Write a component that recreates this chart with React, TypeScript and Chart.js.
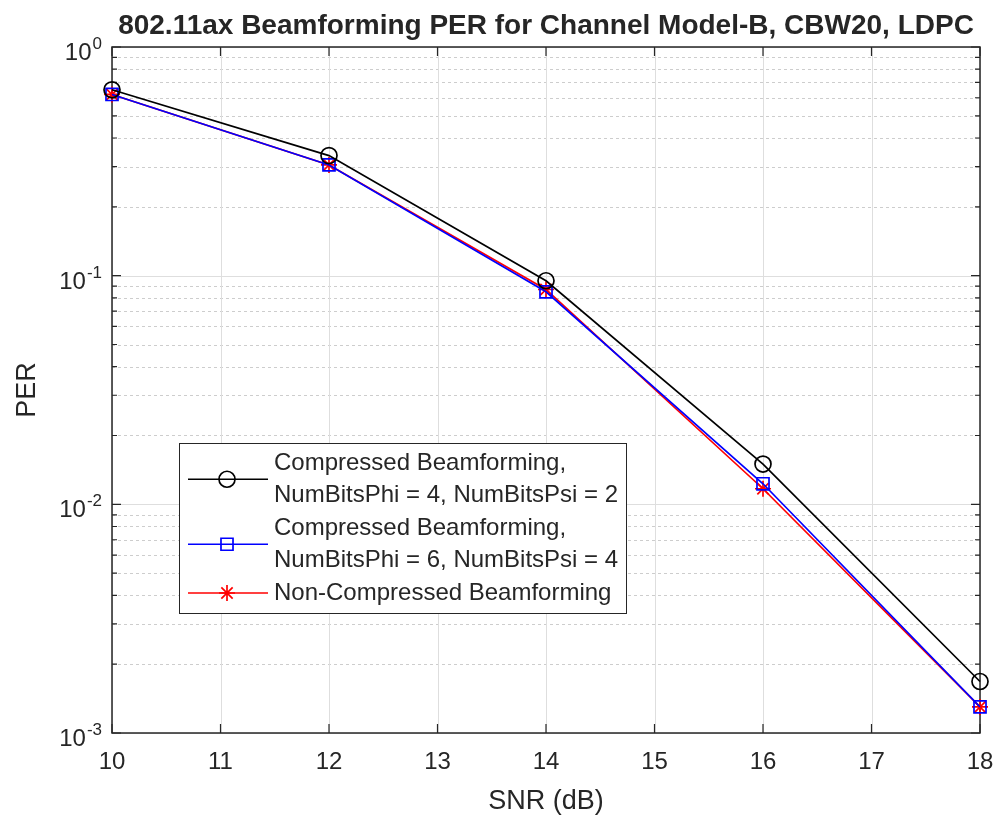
import React, { useEffect, useRef } from 'react';
import { Chart, registerables } from 'chart.js';

Chart.register(...registerables);

// ---- data ----
const snrDb = [10, 12, 14, 16, 18];
const perCompressedPhi4Psi2 = [0.65, 0.335, 0.095, 0.015, 0.00168];
const perCompressedPhi6Psi4 = [0.62, 0.305, 0.085, 0.0123, 0.0013];
const perNonCompressed = [0.62, 0.305, 0.087, 0.0117, 0.0013];

const xTickValues = [10, 11, 12, 13, 14, 15, 16, 17, 18];
const yDecades = [1, 0.1, 0.01, 0.001];
const yDecadeExponents = ['0', '-1', '-2', '-3'];
const minorMultipliers = [2, 3, 4, 5, 6, 7, 8, 9];

const titleText = '802.11ax Beamforming PER for Channel Model-B, CBW20, LDPC';
const xLabel = 'SNR (dB)';
const yLabel = 'PER';
const legendLines = [
  ['Compressed Beamforming,', 'NumBitsPhi = 4, NumBitsPsi = 2'],
  ['Compressed Beamforming,', 'NumBitsPhi = 6, NumBitsPsi = 4'],
  ['Non-Compressed Beamforming'],
];

const TEXT = '#262626';
const FONT = '"Liberation Sans", Arial, Helvetica, sans-serif';
const COLORS = ['#000000', '#0000ff', '#ff0000'];
const MARKERS = ['circle', 'rect', 'star'];
const MARKER_RADIUS = [8, 8.5, 8];

function drawMarker(ctx: CanvasRenderingContext2D, style: string, r: number, x: number, y: number) {
  ctx.beginPath();
  if (style === 'circle') {
    ctx.arc(x, y, r, 0, Math.PI * 2);
  } else if (style === 'rect') {
    const s = r * Math.SQRT1_2;
    ctx.rect(x - s, y - s, 2 * s, 2 * s);
  } else {
    const d = r * Math.SQRT1_2;
    ctx.moveTo(x - r, y); ctx.lineTo(x + r, y);
    ctx.moveTo(x, y - r); ctx.lineTo(x, y + r);
    ctx.moveTo(x - d, y - d); ctx.lineTo(x + d, y + d);
    ctx.moveTo(x - d, y + d); ctx.lineTo(x + d, y - d);
  }
  ctx.stroke();
}

const decorPlugin = {
  id: 'matlabDecor',
  beforeDatasetsDraw(chart: any) {
    const { ctx, chartArea: a, scales } = chart;
    const x = scales.x;
    const y = scales.y;
    ctx.save();
    // minor y grid (dotted)
    ctx.strokeStyle = '#cdcdcd';
    ctx.lineWidth = 1;
    ctx.setLineDash([3, 3]);
    for (const d of yDecades.slice(1)) {
      for (const m of minorMultipliers) {
        const py = Math.round(y.getPixelForValue(d * m)) + 0.5;
        ctx.beginPath();
        ctx.moveTo(a.left, py);
        ctx.lineTo(a.right, py);
        ctx.stroke();
      }
    }
    ctx.setLineDash([]);
    // major grid
    ctx.strokeStyle = '#dedede';
    for (const d of yDecades) {
      const py = Math.round(y.getPixelForValue(d)) + 0.5;
      ctx.beginPath();
      ctx.moveTo(a.left, py);
      ctx.lineTo(a.right, py);
      ctx.stroke();
    }
    for (const v of xTickValues) {
      const px = Math.round(x.getPixelForValue(v)) + 0.5;
      ctx.beginPath();
      ctx.moveTo(px, a.top);
      ctx.lineTo(px, a.bottom);
      ctx.stroke();
    }

    // axes box
    ctx.strokeStyle = TEXT;
    ctx.lineWidth = 1.5;
    ctx.strokeRect(a.left, a.top, a.right - a.left, a.bottom - a.top);

    // inward ticks
    ctx.lineWidth = 1.2;
    const major = 9;
    const minor = 5;
    for (const v of xTickValues) {
      const px = x.getPixelForValue(v);
      ctx.beginPath();
      ctx.moveTo(px, a.bottom);
      ctx.lineTo(px, a.bottom - major);
      ctx.moveTo(px, a.top);
      ctx.lineTo(px, a.top + major);
      ctx.stroke();
    }
    for (const d of yDecades) {
      const py = y.getPixelForValue(d);
      ctx.beginPath();
      ctx.moveTo(a.left, py);
      ctx.lineTo(a.left + major, py);
      ctx.moveTo(a.right, py);
      ctx.lineTo(a.right - major, py);
      ctx.stroke();
    }
    for (const d of yDecades.slice(1)) {
      for (const m of minorMultipliers) {
        const py = y.getPixelForValue(d * m);
        ctx.beginPath();
        ctx.moveTo(a.left, py);
        ctx.lineTo(a.left + minor, py);
        ctx.moveTo(a.right, py);
        ctx.lineTo(a.right - minor, py);
        ctx.stroke();
      }
    }

    // x tick labels
    ctx.fillStyle = TEXT;
    ctx.font = `24px ${FONT}`;
    ctx.textAlign = 'center';
    ctx.textBaseline = 'middle';
    for (const v of xTickValues) {
      ctx.fillText(String(v), x.getPixelForValue(v), a.bottom + 29);
    }
    // y tick labels 10^n
    ctx.textBaseline = 'alphabetic';
    yDecades.forEach((d, i) => {
      const py = y.getPixelForValue(d);
      const exp = yDecadeExponents[i];
      ctx.font = `17px ${FONT}`;
      const ew = ctx.measureText(exp).width;
      const right = a.left - 10;
      ctx.textAlign = 'right';
      ctx.fillText(exp, right, py + 2);
      ctx.font = `24px ${FONT}`;
      ctx.fillText('10', right - ew - 1, py + 13);
    });

    // axis titles
    ctx.font = `27px ${FONT}`;
    ctx.textAlign = 'center';
    ctx.textBaseline = 'middle';
    ctx.fillText(xLabel, (a.left + a.right) / 2, a.bottom + 69);
    ctx.save();
    ctx.translate(28, (a.top + a.bottom) / 2);
    ctx.rotate(-Math.PI / 2);
    ctx.fillText(yLabel, 0, 0);
    ctx.restore();

    // title
    ctx.font = `bold 28px ${FONT}`;
    ctx.textBaseline = 'alphabetic';
    ctx.fillText(titleText, (a.left + a.right) / 2, 34);
    ctx.restore();
  },
  afterDatasetsDraw(chart: any) {
    const { ctx, chartArea: a } = chart;
    ctx.save();
    // legend box
    const bx = a.left + 67;
    const by = a.top + 396;
    const bw = 447;
    const bh = 170;
    ctx.fillStyle = '#ffffff';
    ctx.fillRect(bx, by, bw, bh);
    ctx.strokeStyle = TEXT;
    ctx.lineWidth = 1;
    ctx.strokeRect(bx + 0.5, by + 0.5, bw, bh);

    const lineH = 32.5;
    let ty = by + 20;
    ctx.font = `24px ${FONT}`;
    ctx.textAlign = 'left';
    ctx.textBaseline = 'middle';
    legendLines.forEach((lines, i) => {
      const cy = ty + ((lines.length - 1) * lineH) / 2;
      ctx.strokeStyle = COLORS[i];
      ctx.lineWidth = 1.7;
      ctx.beginPath();
      ctx.moveTo(bx + 9, cy);
      ctx.lineTo(bx + 89, cy);
      ctx.stroke();
      drawMarker(ctx, MARKERS[i], MARKER_RADIUS[i], bx + 48, cy);
      ctx.fillStyle = TEXT;
      lines.forEach((t, k) => {
        ctx.fillText(t, bx + 95, ty + k * lineH);
      });
      ty += lines.length * lineH;
    });
    ctx.restore();
  },
};

export default function App() {
  const canvasRef = useRef<HTMLCanvasElement | null>(null);

  useEffect(() => {
    document.body.style.margin = '0';
    const canvas = canvasRef.current;
    if (!canvas) return;
    const series = [perCompressedPhi4Psi2, perCompressedPhi6Psi4, perNonCompressed];
    const chart = new Chart(canvas, {
      type: 'line',
      data: {
        datasets: series.map((vals, i) => ({
          label: legendLines[i].join(' '),
          data: snrDb.map((s, k) => ({ x: s, y: vals[k] })),
          borderColor: COLORS[i],
          backgroundColor: 'rgba(0,0,0,0)',
          pointBorderColor: COLORS[i],
          pointBackgroundColor: 'rgba(0,0,0,0)',
          borderWidth: 1.7,
          pointStyle: MARKERS[i],
          pointRadius: MARKER_RADIUS[i],
          pointBorderWidth: 1.7,
          pointHoverRadius: MARKER_RADIUS[i],
          tension: 0,
          clip: false,
          fill: false,
        })),
      },
      options: {
        responsive: false,
        animation: false,
        devicePixelRatio: 1,
        events: [],
        layout: { padding: { top: 47, right: 17, left: 0, bottom: 0 } },
        plugins: {
          legend: { display: false },
          title: { display: false },
          tooltip: { enabled: false },
        },
        scales: {
          x: {
            type: 'linear',
            min: 10,
            max: 18,
            grid: { display: false },
            border: { display: false },
            ticks: { display: false, stepSize: 1 },
            afterFit: (s: any) => { s.height = 86; },
          },
          y: {
            type: 'logarithmic',
            min: 0.001,
            max: 1,
            grid: { display: false },
            border: { display: false },
            ticks: { display: false },
            afterFit: (s: any) => { s.width = 112; },
          },
        },
      },
      plugins: [decorPlugin],
    } as any);
    return () => chart.destroy();
  }, []);

  return (
    <div style={{ width: 997, height: 819, background: '#ffffff' }}>
      <canvas ref={canvasRef} width={997} height={819} />
    </div>
  );
}
